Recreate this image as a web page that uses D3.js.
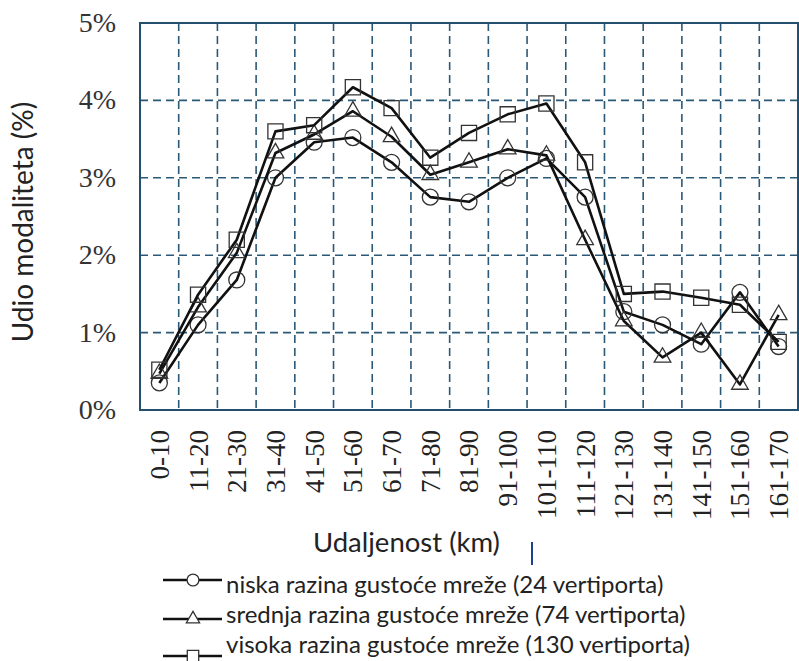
<!DOCTYPE html>
<html>
<head>
<meta charset="utf-8">
<script src="https://cdn.jsdelivr.net/npm/d3@7"></script>
<style>
  html, body { margin: 0; padding: 0; background: #fff; }
  svg { display: block; }
</style>
</head>
<body>
<svg id="chart" width="799" height="661"></svg>
<script>
// distance bands (km)
const categories = ["0-10","11-20","21-30","31-40","41-50","51-60","61-70","71-80","81-90",
    "91-100","101-110","111-120","121-130","131-140","141-150","151-160","161-170"];

// modal share (%) per network density
const niska   = [0.35, 1.10, 1.68, 3.00, 3.46, 3.52, 3.20, 2.75, 2.69, 3.00, 3.25, 2.75, 1.27, 1.10, 0.85, 1.52, 0.82];
const srednja = [0.47, 1.33, 2.03, 3.32, 3.56, 3.86, 3.53, 3.04, 3.20, 3.37, 3.29, 2.20, 1.15, 0.68, 1.00, 0.33, 1.23];
const visoka  = [0.52, 1.49, 2.20, 3.60, 3.68, 4.17, 3.90, 3.26, 3.58, 3.82, 3.96, 3.20, 1.50, 1.53, 1.45, 1.36, 0.88];

const yTicks = [0, 1, 2, 3, 4, 5];

const seriesNames = [
    "niska razina gustoće mreže (24 vertiporta)",
    "srednja razina gustoće mreže (74 vertiporta)",
    "visoka razina gustoće mreže (130 vertiporta)"
];

const svg = d3.select("#chart");

const plotLeft = 140, plotRight = 798, plotTop = 23, plotBottom = 410;
const gridColor = "#2b5877";

const x = d3.scaleBand()
    .domain(categories)
    .range([plotLeft, plotRight])
    .padding(0);

const y = d3.scaleLinear()
    .domain([0, 5])
    .range([plotBottom, plotTop]);

// grid
const grid = svg.append("g");
grid.selectAll("line.h")
    .data(yTicks.slice(1, -1))
    .enter()
    .append("line")
    .attr("x1", plotLeft)
    .attr("x2", plotRight)
    .attr("y1", d => y(d))
    .attr("y2", d => y(d))
    .attr("stroke", gridColor)
    .attr("stroke-width", 1.6)
    .attr("stroke-dasharray", "8,5");

grid.selectAll("line.v")
    .data(categories.slice(1))
    .enter()
    .append("line")
    .attr("x1", d => x(d))
    .attr("x2", d => x(d))
    .attr("y1", plotTop)
    .attr("y2", plotBottom)
    .attr("stroke", gridColor)
    .attr("stroke-width", 1.6)
    .attr("stroke-dasharray", "8,5");

// frame
svg.append("rect")
    .attr("x", plotLeft)
    .attr("y", plotTop)
    .attr("width", plotRight - plotLeft)
    .attr("height", plotBottom - plotTop)
    .attr("fill", "none")
    .attr("stroke", "#24506f")
    .attr("stroke-width", 2);

// y tick labels
svg.append("g")
    .selectAll("text")
    .data(yTicks)
    .enter()
    .append("text")
    .attr("x", 116)
    .attr("y", d => y(d))
    .attr("dy", "0.32em")
    .attr("text-anchor", "end")
    .attr("font-family", "Liberation Serif")
    .attr("font-size", 28)
    .attr("fill", "#333")
    .text(d => d + "%");

// x tick labels
svg.append("g")
    .selectAll("text")
    .data(categories)
    .enter()
    .append("text")
    .attr("transform", d => `translate(${x(d) + x.bandwidth() / 2}, 430) rotate(-90)`)
    .attr("dy", "0.35em")
    .attr("text-anchor", "end")
    .attr("font-family", "Liberation Serif")
    .attr("font-size", 27)
    .attr("fill", "#222")
    .text(d => d);

// axis titles
svg.append("text")
    .attr("transform", "translate(33, 222) rotate(-90)")
    .attr("text-anchor", "middle")
    .attr("font-family", "Lato")
    .attr("font-size", 28)
    .attr("fill", "#222")
    .text("Udio modaliteta (%)");

svg.append("text")
    .attr("x", 313)
    .attr("y", 552)
    .attr("font-family", "Lato")
    .attr("font-size", 27.5)
    .attr("fill", "#222")
    .text("Udaljenost (km)");

svg.append("line")
    .attr("x1", 532).attr("x2", 532)
    .attr("y1", 542).attr("y2", 565)
    .attr("stroke", "#1f3f8f")
    .attr("stroke-width", 2);

// series
const cx = d => x(d) + x.bandwidth() / 2;
const series = [
    {values: niska,   symbol: d3.symbolCircle,   size: 200, legendSize: 110},
    {values: srednja, symbol: d3.symbolTriangle, size: 120, legendSize: 75},
    {values: visoka,  symbol: d3.symbolSquare,   size: 230, legendSize: 130}
];

const line = d3.line()
    .x((d, i) => cx(categories[i]))
    .y(d => y(d));

series.forEach(s => {
    svg.append("path")
        .datum(s.values)
        .attr("d", line)
        .attr("fill", "none")
        .attr("stroke", "#111")
        .attr("stroke-width", 2.6)
        .attr("stroke-linejoin", "round");

    svg.append("g")
        .selectAll("path")
        .data(s.values)
        .enter()
        .append("path")
        .attr("d", d3.symbol().type(s.symbol).size(s.size))
        .attr("transform", (d, i) => `translate(${cx(categories[i])}, ${y(d)})`)
        .attr("fill", "none")
        .attr("stroke", "#333")
        .attr("stroke-width", 1.3);
});

// legend
const legendLineY = [580, 619, 656];
const legendTextY = [593, 623, 653];
const legend = svg.append("g");
series.forEach((s, i) => {
    legend.append("line")
        .attr("x1", 163).attr("x2", 222)
        .attr("y1", legendLineY[i]).attr("y2", legendLineY[i])
        .attr("stroke", "#111")
        .attr("stroke-width", 2.6);
    legend.append("path")
        .attr("d", d3.symbol().type(s.symbol).size(s.legendSize))
        .attr("transform", `translate(193, ${legendLineY[i]})`)
        .attr("fill", "#fff")
        .attr("stroke", "#333")
        .attr("stroke-width", 1.3);
    legend.append("text")
        .attr("x", 226)
        .attr("y", legendTextY[i])
        .attr("font-family", "Lato")
        .attr("font-size", 24)
        .attr("fill", "#222")
        .text(seriesNames[i]);
});
</script>
</body>
</html>
